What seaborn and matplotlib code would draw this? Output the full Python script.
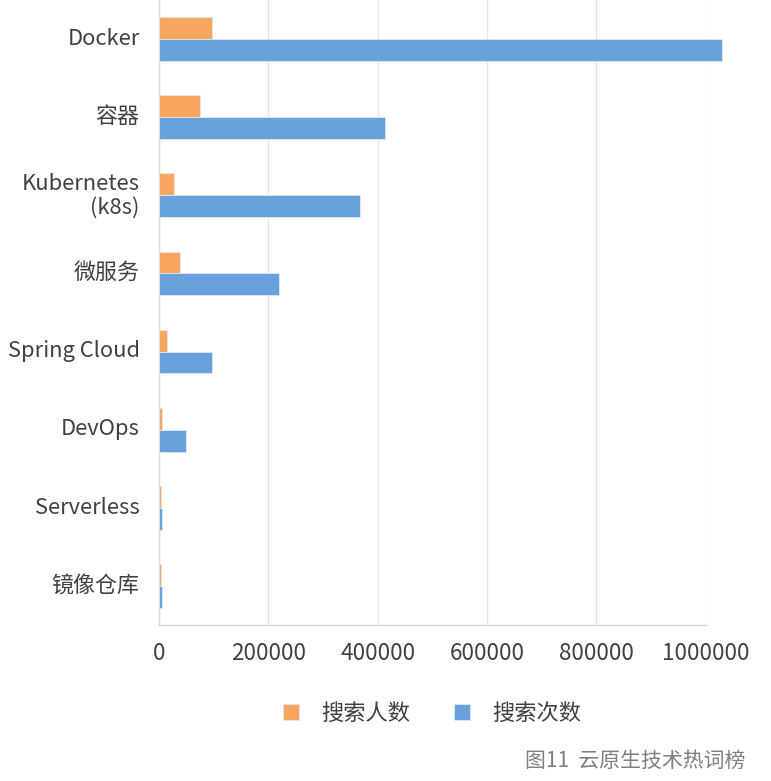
import matplotlib
matplotlib.use("Agg")
import matplotlib.pyplot as plt
import seaborn as sns
import pandas as pd

categories = ["Docker", "容器", "Kubernetes\n(k8s)", "微服务", "Spring Cloud", "DevOps", "Serverless", "镜像仓库"]
searchers = [97000, 75000, 28000, 38000, 15000, 5000, 3000, 3000]      # 搜索人数
searches = [1030000, 414000, 367000, 220000, 97000, 49000, 6000, 6000]  # 搜索次数
series_names = ["搜索人数", "搜索次数"]
xticks = [0, 200000, 400000, 600000, 800000, 1000000]
caption = "图11  云原生技术热词榜"

sns.set_theme(style="white")
plt.rcParams["font.family"] = ["Noto Sans CJK SC", "DejaVu Sans"]

df = pd.DataFrame({
    "category": categories * 2,
    "value": searchers + searches,
    "series": [series_names[0]] * len(categories) + [series_names[1]] * len(categories),
})

fig = plt.figure(figsize=(7.71, 7.81), dpi=100)
ax = fig.add_axes([159 / 771, 1 - 625 / 781, (705.7 - 159) / 771, 625 / 781])

palette = {series_names[0]: "#F9A65F", series_names[1]: "#68A1DC"}
sns.barplot(data=df, y="category", x="value", hue="series", hue_order=series_names,
            order=categories, palette=palette, orient="h", width=0.56, saturation=1,
            edgecolor="#dde9f5", linewidth=0.6, ax=ax, zorder=3)

for p in ax.patches:
    p.set_clip_on(False)

ax.set_xlim(0, 1000000)
ax.set_ylim(len(categories) - 0.5, -0.5)
ax.set_xticks(xticks)
ax.set_xticklabels([str(v) for v in xticks])
ax.set_xlabel("")
ax.set_ylabel("")
ax.grid(axis="x", color="#e8e8e8", linewidth=1, zorder=0)
ax.set_axisbelow(True)
ax.tick_params(axis="y", length=0, labelsize=15.8, labelcolor="#404040", pad=14)
ax.tick_params(axis="x", length=0, labelsize=16.2, labelcolor="#404040", pad=12)
for lab in ax.get_yticklabels():
    lab.set_horizontalalignment("right")
    lab.set_multialignment("right")
    lab.set_linespacing(1.1)
    lab.set_y(lab.get_position()[1])
ax.set_yticks(range(len(categories)))
ax.set_yticklabels(categories)
for lab in ax.get_yticklabels():
    lab.set_multialignment("right")
    lab.set_linespacing(1.1)
    lab.set_transform(lab.get_transform() + matplotlib.transforms.ScaledTranslation(0, 2 / 72, fig.dpi_scale_trans))

for side in ["top", "right"]:
    ax.spines[side].set_visible(False)
for side in ["left", "bottom"]:
    ax.spines[side].set_color("#d9d9d9")
    ax.spines[side].set_linewidth(1)

handles, labels = ax.get_legend_handles_labels()
ax.legend_.remove()
fig.legend(handles, labels, loc="center", bbox_to_anchor=(432 / 771, 1 - 713 / 781),
           ncol=2, frameon=False, fontsize=16, labelcolor="#404040",
           handlelength=0.7, handleheight=0.7, handletextpad=1.0, columnspacing=2.0)

fig.text(745 / 771, 1 - 761 / 781, caption, ha="right", va="center",
         fontsize=15, color="#7f7f7f")

fig.savefig("out.png", dpi=100, facecolor="white")
